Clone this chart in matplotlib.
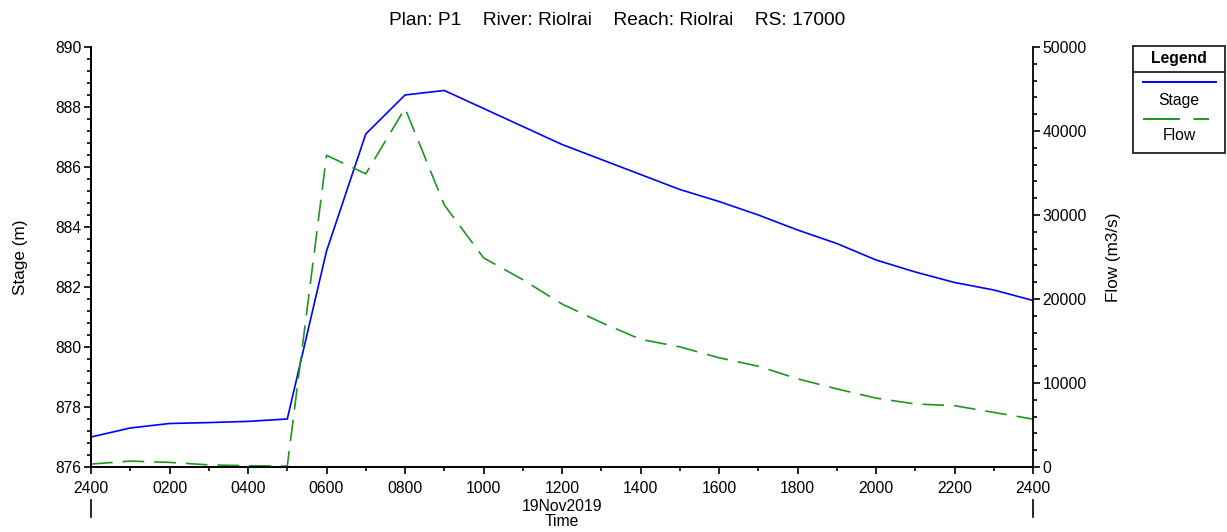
import numpy as np
import matplotlib.pyplot as plt
from matplotlib.ticker import MultipleLocator
from matplotlib.patches import Rectangle
from matplotlib.lines import Line2D

plt.rcParams['font.family'] = ['Liberation Sans', 'DejaVu Sans']
plt.rcParams['font.size'] = 11

# hourly data, 19Nov2019 0000 -> 2400
hours = list(range(25))
stage = [877.0, 877.3, 877.45, 877.48, 877.52, 877.6, 883.2, 887.1, 888.4, 888.55,
         887.95, 887.35, 886.75, 886.25, 885.75, 885.25, 884.85, 884.4, 883.9, 883.45,
         882.9, 882.5, 882.15, 881.9, 881.55]
flow = [350, 700, 550, 250, 150, 100, 37100, 34900, 42700, 31200,
        24900, 22300, 19400, 17200, 15200, 14300, 13000, 12000, 10500, 9300,
        8200, 7500, 7300, 6500, 5700]
tick_hours = list(range(0, 25, 2))
tick_labels = ['2400', '0200', '0400', '0600', '0800', '1000', '1200',
               '1400', '1600', '1800', '2000', '2200', '2400']

fig = plt.figure(figsize=(12.27, 5.32), dpi=100)
ax = fig.add_axes([0.0742, 0.1222, 0.7677, 0.7895])
ax2 = ax.twinx()

ax.plot(hours, stage, color='#0000ff', lw=1.2, zorder=3)
ax2.plot(hours, flow, color='#1e961e', lw=1.2, dashes=(13, 6))

ax.set_xlim(0, 24)
ax.set_ylim(876, 890)
ax2.set_ylim(0, 50000)

ax.set_xticks(tick_hours)
ax.set_xticklabels(tick_labels)
ax.xaxis.set_minor_locator(MultipleLocator(1))
ax.yaxis.set_major_locator(MultipleLocator(2))
ax.yaxis.set_minor_locator(MultipleLocator(0.4))
ax2.yaxis.set_major_locator(MultipleLocator(10000))
ax2.yaxis.set_minor_locator(MultipleLocator(2000))

for a in (ax, ax2):
    a.spines['top'].set_visible(False)
    a.tick_params(which='major', length=5, width=1.2, direction='out', pad=2, labelsize=11.3)
    a.tick_params(which='minor', length=3, width=1.2, direction='out')
    for s in a.spines.values():
        s.set_linewidth(1.3)
ax.spines['right'].set_visible(False)
ax.tick_params(axis='x', which='major', pad=5)

ax.set_ylabel('Stage (m)', fontsize=12.3)
ax2.set_ylabel('Flow (m3/s)', fontsize=12.3)
ax.yaxis.set_label_coords(-0.067, 0.5)
ax2.yaxis.set_label_coords(1.077, 0.5)

# date / axis title under the ticks
ax.text(12, -0.095, '19Nov2019', transform=ax.get_xaxis_transform(),
        ha='center', va='center', fontsize=11.3)
ax.text(12, -0.129, 'Time', transform=ax.get_xaxis_transform(),
        ha='center', va='center', fontsize=11.3)
for h in (0, 24):
    ax.plot([h, h], [-0.079, -0.119], color='black', lw=1.2,
            transform=ax.get_xaxis_transform(), clip_on=False)

fig.text(0.503, 0.962, 'Plan: P1    River: Riolrai    Reach: Riolrai    RS: 17000',
         ha='center', va='center', fontsize=13.8)

# legend box
W, H = 1227.0, 532.0
def fx(px):
    return px / W
def fy(py):
    return 1 - py / H

fig.patches.append(Rectangle((fx(1133), fy(153)), fx(1225) - fx(1133), fy(46) - fy(153),
                             transform=fig.transFigure, fill=False, lw=1.3, ec='#222222'))
fig.lines.append(Line2D([fx(1133), fx(1225)], [fy(72), fy(72)], transform=fig.transFigure,
                        color='#222222', lw=1.3))
fig.text(fx(1179), fy(59), 'Legend', ha='center', va='center', fontsize=11.3, fontweight='bold')
fig.lines.append(Line2D([fx(1143), fx(1216)], [fy(82), fy(82)], transform=fig.transFigure,
                        color='#0000ff', lw=1.4))
fig.text(fx(1179), fy(101), 'Stage', ha='center', va='center', fontsize=11.3)
fig.lines.append(Line2D([fx(1143), fx(1209)], [fy(119), fy(119)], transform=fig.transFigure,
                        color='#1e961e', lw=1.4, dashes=(19, 7)))
fig.text(fx(1179), fy(136), 'Flow', ha='center', va='center', fontsize=11.3)

fig.savefig('out.png', dpi=100)
